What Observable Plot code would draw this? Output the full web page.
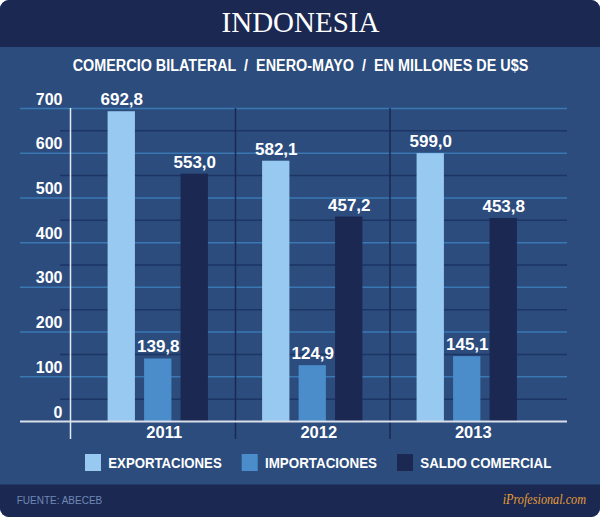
<!DOCTYPE html>
<html><head><meta charset="utf-8">
<script src="https://cdn.jsdelivr.net/npm/d3@7"></script>
<script src="https://cdn.jsdelivr.net/npm/@observablehq/plot@0.6"></script>
<style>
html,body{margin:0;padding:0;background:#fff;}
#card{position:relative;width:600px;height:517px;background:#2b4c7d;border-radius:9px;overflow:hidden;font-family:"Liberation Sans",Arial,sans-serif;}
#card > svg{position:absolute;left:0;}
</style></head><body><div id="card"></div>
<script>
// ---- data ----
const years = [2011, 2012, 2013];
const series = ["EXPORTACIONES", "IMPORTACIONES", "SALDO COMERCIAL"];
const exportaciones = [692.8, 582.1, 599.0];
const importaciones = [139.8, 124.9, 145.1];
const saldoComercial = [553.0, 457.2, 453.8];
const yTicks = [0, 100, 200, 300, 400, 500, 600, 700];
const minorTicks = [50, 150, 250, 350, 450, 550, 650];
const title = "INDONESIA";
const subtitle = "COMERCIO BILATERAL  /  ENERO-MAYO  /  EN MILLONES DE U$S";
const source = "FUENTE: ABECEB";
const brand = "iProfesional.com";

// ---- styles ----
const colors = ["#98c9f1", "#4a8dca", "#1b2852"];
const dark = "#1b2852";
const sans = "'Liberation Sans', Arial, sans-serif";
const serif = "'Liberation Serif', 'Times New Roman', serif";
const legendWidths = [113.4, 112, 131];

const values = [exportaciones, importaciones, saldoComercial];
const rows = years.flatMap((year, i) => series.map((s, j) => ({year, series: s, k: j - 1, value: values[j][i]})));

const step = 0.2362, half = 0.0884;            // bar offset / half width in year units
const xDomain = [2010.432, 2013.649];
const separators = years.slice(1).map(y => y - 0.5);
const fmt = v => v.toFixed(1).replace(".", ",");

const W = 600, H = 517;
const card = d3.select("#card");

// ---- decoration (title, subtitle, legend, footer) ----
const deco = card.append("svg").attr("width", W).attr("height", H).style("top", "0px");
deco.append("rect").attr("width", W).attr("height", 47).attr("fill", dark);
deco.append("rect").attr("y", 484.5).attr("width", W).attr("height", H - 484.5).attr("fill", dark);

deco.append("text").attr("x", 300.5).attr("y", 32.3).attr("text-anchor", "middle")
  .attr("font-family", serif).attr("font-size", 29).attr("fill", "white").text(title);

function fit(t, w) {
  t.attr("textLength", w).attr("lengthAdjust", "spacingAndGlyphs");
  return w;
}

const sub = deco.append("text").attr("x", 300.5).attr("y", 71).attr("text-anchor", "middle")
  .attr("font-family", sans).attr("font-weight", "bold").attr("font-size", 15.6)
  .attr("fill", "white").style("white-space", "pre").text(subtitle);
fit(sub, 455.6);

let lx = 85;
series.forEach((s, j) => {
  deco.append("rect").attr("x", lx).attr("y", 454).attr("width", 16).attr("height", 17).attr("fill", colors[j]);
  const t = deco.append("text").attr("x", lx + 23.3).attr("y", 468.3)
    .attr("font-family", sans).attr("font-weight", "bold").attr("font-size", 15.4)
    .attr("fill", "white").text(s);
  const w = fit(t, legendWidths[j]);
  lx = lx + 23.3 + w + 20;
});

const src = deco.append("text").attr("x", 16.7).attr("y", 503.7)
  .attr("font-family", sans).attr("font-size", 11).attr("fill", "#6f88b6").text(source);
fit(src, 85.6);
const br = deco.append("text").attr("x", 502.7).attr("y", 504.3)
  .attr("font-family", serif).attr("font-style", "italic").attr("font-size", 14)
  .attr("fill", "#e39c36").text(brand);
fit(br, 83.3);

// ---- chart ----
const plot = Plot.plot({
  width: 600, height: 360,
  marginLeft: 70, marginRight: 33, marginTop: 18, marginBottom: 29,
  style: {background: "transparent", color: "white", fontFamily: sans, fontWeight: "bold"},
  x: {type: "linear", domain: xDomain},
  y: {domain: [0, 700]},
  color: {domain: series, range: colors},
  marks: [
    Plot.ruleY(minorTicks, {stroke: "#1d3564", strokeWidth: 1.5, insetLeft: -10}),
    Plot.ruleY(yTicks.slice(1), {stroke: "#3b77b3", strokeWidth: 1.5, insetLeft: -50}),
    Plot.ruleX(separators, {stroke: dark, strokeWidth: 1.5, insetBottom: -18}),
    Plot.ruleX([xDomain[0]], {stroke: "#e4e9f2", strokeWidth: 1.5, insetBottom: -18}),
    Plot.rect(rows, {x1: d => d.year + d.k * step - half, x2: d => d.year + d.k * step + half, y1: 0, y2: "value", fill: "series"}),
    Plot.ruleY([0], {stroke: "#d9dfea", strokeWidth: 2, insetLeft: -50}),
    Plot.text(rows, {x: d => d.year + d.k * step, y: "value", text: d => fmt(d.value), dy: -12, fill: "white", fontSize: 17, fontWeight: "bold"}),
    Plot.axisY(yTicks, {tickSize: 0, tickPadding: 8, dy: -9, fontSize: 16, fontWeight: "bold", label: null}),
    Plot.axisX(years, {tickSize: 0, tickPadding: 5, dx: 6, fontSize: 16.5, fontWeight: "bold", tickFormat: d => String(d), label: null})
  ]
});
plot.style.top = "90px";
document.getElementById("card").appendChild(plot);
</script>
</body></html>
